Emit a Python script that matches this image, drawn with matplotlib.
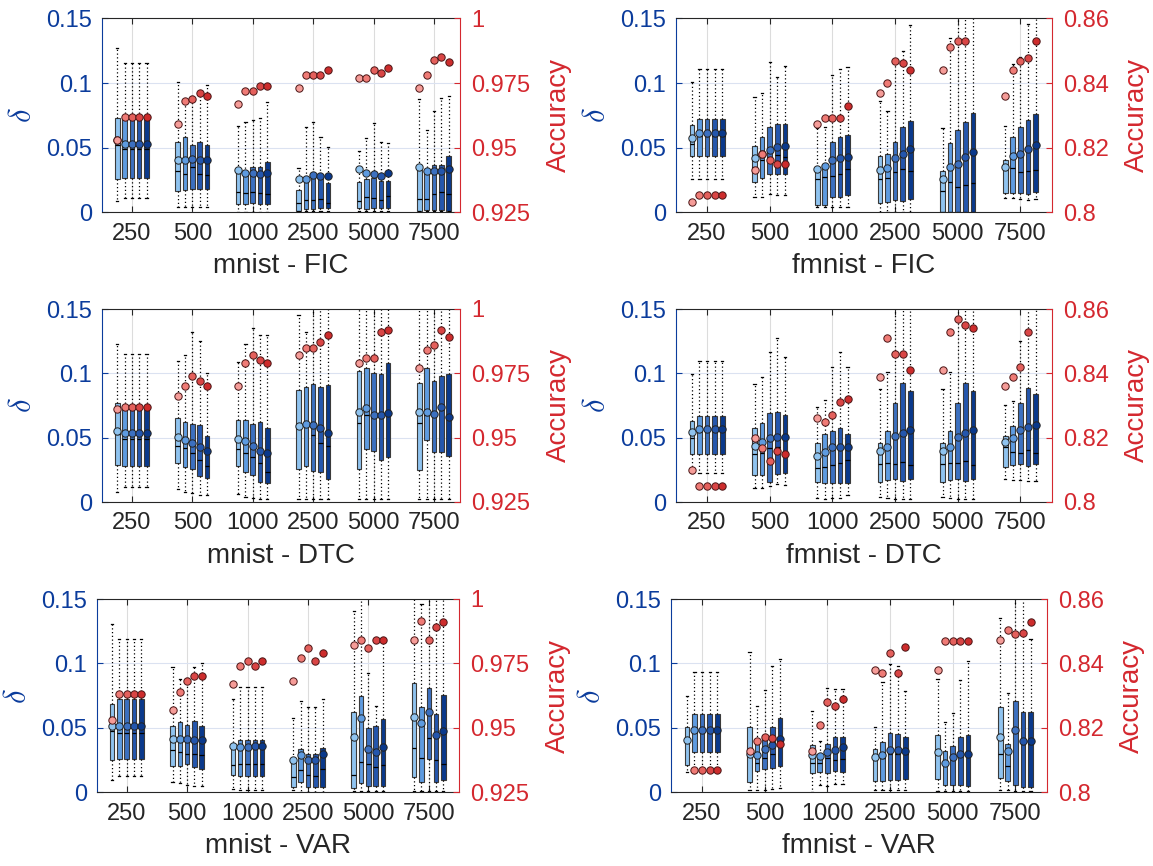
import numpy as np
import matplotlib.pyplot as plt

plt.rcParams['font.family'] = ['Liberation Sans', 'DejaVu Sans']
plt.rcParams['mathtext.fontset'] = 'cm'

sizes = ['250', '500', '1000', '2500', '5000', '7500']
blues = ['#8fc3ef', '#5e9be0', '#3c70c0', '#2456ad', '#0a398c']
reds = ['#f59c98', '#ef7b76', '#e4605c', '#d94545', '#cd2c2c']
BLUE = '#0b3c9c'
RED = '#d4282f'
nan = np.nan

# ---------------- mnist - FIC ----------------
mnist_fic_lo = [[0.009, 0.011, 0.011, 0.011, 0.011], [0.004, 0.004, 0.004, 0.004, 0.004],
                [0.0005, 0.0005, 0.0005, 0.0005, 0.0005], [0.001, 0.001, 0.001, 0.001, 0.001],
                [0.001, 0.001, 0.001, 0.001, 0.001], [0.001, 0.001, 0.001, 0.001, 0.001]]
mnist_fic_q1 = [[0.0258, 0.0268, 0.0268, 0.0268, 0.0268], [0.0165, 0.0173, 0.018, 0.018, 0.018],
                [0.0064, 0.0064, 0.007, 0.0064, 0.0064], [0.0013, 0.0023, 0.0026, 0.003, 0.003],
                [0.0031, 0.0026, 0.0031, 0.0031, 0.0031], [0.0013, 0.0018, 0.0018, 0.0018, 0.0013]]
mnist_fic_med = [[0.052, 0.0487, 0.0487, 0.0487, 0.0487], [0.0322, 0.0296, 0.0353, 0.030, 0.029],
                 [0.016, 0.015, 0.0155, 0.0147, 0.0142], [0.0075, 0.0095, 0.0095, 0.010, 0.0075],
                 [0.0088, 0.0121, 0.0108, 0.0095, 0.0126], [0.010, 0.010, 0.0142, 0.016, 0.0142]]
mnist_fic_q3 = [[0.0727, 0.074, 0.074, 0.074, 0.074], [0.0546, 0.0585, 0.052, 0.054, 0.052],
                [0.0302, 0.0314, 0.0353, 0.0353, 0.0387], [0.0173, 0.0276, 0.0302, 0.0296, 0.0224],
                [0.0232, 0.0258, 0.0268, 0.0242, 0.0242], [0.0327, 0.0322, 0.0366, 0.0366, 0.0436]]
mnist_fic_hi = [[0.1268, 0.1152, 0.1152, 0.1152, 0.1152], [0.1005, 0.088, 0.090, 0.094, 0.0985],
                [0.0668, 0.070, 0.0714, 0.0732, 0.0856], [0.0345, 0.0662, 0.0696, 0.058, 0.0508],
                [0.0474, 0.0577, 0.0688, 0.0541, 0.0539], [0.0876, 0.0637, 0.0786, 0.0881, 0.090]]
mnist_fic_mean = [[0.0559, 0.0528, 0.0528, 0.0528, 0.0528], [0.0405, 0.0405, 0.041, 0.0405, 0.0405],
                  [0.0325, 0.0302, 0.0302, 0.0296, 0.0302], [0.0255, 0.026, 0.0286, 0.0281, 0.0281],
                  [0.0335, 0.0304, 0.0296, 0.0278, 0.0302], [0.0353, 0.0322, 0.0322, 0.0322, 0.0332]]
mnist_fic_acc = [[0.953, 0.962, 0.962, 0.962, 0.962], [0.959, 0.968, 0.969, 0.971, 0.970],
                 [0.967, 0.972, 0.972, 0.974, 0.974], [0.973, 0.978, 0.978, 0.978, 0.980],
                 [0.977, 0.977, 0.980, 0.979, 0.981], [0.973, 0.978, 0.984, 0.985, 0.983]]

# ---------------- fmnist - FIC ----------------
fmnist_fic_lo = [[0.0258, 0.0258, 0.0258, 0.0258, 0.0258], [0.0121, 0.0121, 0.0142, 0.0134, 0.0134],
                 [0.0044, 0.0044, 0.0044, 0.0044, 0.0044], [0.0005, 0.0005, 0.0005, 0.0005, 0.0005],
                 [0.0, 0.0, 0.0, 0.0, 0.0], [0.0108, 0.0108, 0.0105, 0.0095, 0.0105]]
fmnist_fic_q1 = [[0.0436, 0.0436, 0.0436, 0.0436, 0.0436], [0.0237, 0.0268, 0.0294, 0.0296, 0.0296],
                 [0.0057, 0.0057, 0.012, 0.012, 0.013], [0.007, 0.0082, 0.0095, 0.0088, 0.010],
                 [0.0, 0.0, 0.0, 0.0, 0.0005], [0.0147, 0.0152, 0.0147, 0.0139, 0.0155]]
fmnist_fic_med = [[0.053, 0.059, 0.059, 0.059, 0.059], [0.0353, 0.0405, 0.043, 0.0443, 0.0425],
                  [0.0255, 0.027, 0.0281, 0.0296, 0.0332], [0.0255, 0.0263, 0.0309, 0.0335, 0.032],
                  [0.0165, 0.0237, 0.0198, 0.0211, 0.0224], [0.034, 0.0345, 0.0309, 0.0322, 0.0327]]
fmnist_fic_q3 = [[0.0673, 0.0722, 0.0722, 0.0722, 0.0722], [0.0513, 0.0585, 0.0657, 0.068, 0.068],
                 [0.0353, 0.0374, 0.054, 0.0585, 0.0598], [0.0436, 0.0451, 0.054, 0.0657, 0.0709],
                 [0.0322, 0.0539, 0.0637, 0.0701, 0.0765], [0.0405, 0.058, 0.0657, 0.0714, 0.076]]
fmnist_fic_hi = [[0.101, 0.1108, 0.1108, 0.1108, 0.1108], [0.0894, 0.0925, 0.116, 0.1044, 0.1131],
                 [0.065, 0.0657, 0.106, 0.111, 0.1121], [0.0863, 0.0786, 0.1152, 0.1247, 0.1448],
                 [0.065, 0.135, 0.16, 0.16, 0.16], [0.0668, 0.1147, 0.12, 0.1456, 0.16]]
fmnist_fic_mean = [[0.0577, 0.0611, 0.0611, 0.0611, 0.0611], [0.0418, 0.0448, 0.0482, 0.0503, 0.0513],
                   [0.0335, 0.0358, 0.0405, 0.0418, 0.043], [0.0327, 0.0345, 0.0418, 0.0451, 0.0487],
                   [0.0255, 0.0353, 0.0374, 0.0425, 0.0464], [0.0353, 0.0436, 0.0451, 0.0487, 0.0521]]
fmnist_fic_acc = [[0.8031, 0.8052, 0.8052, 0.8052, 0.8052], [0.8131, 0.8179, 0.8161, 0.815, 0.815],
                  [0.8272, 0.8291, 0.8291, 0.8291, 0.833], [0.837, 0.8401, 0.8469, 0.8461, 0.844],
                  [0.844, 0.851, 0.853, 0.853, 0.862], [0.836, 0.844, 0.8469, 0.8479, 0.853]]

# ---------------- mnist - DTC ----------------
mnist_dtc_lo = [[0.008, 0.0114, 0.0114, 0.0114, 0.0114], [0.0098, 0.0075, 0.0067, 0.0054, 0.0054],
                [0.0062, 0.004, 0.003, 0.002, 0.002], [0.0023, 0.002, 0.002, 0.002, 0.002],
                [0.002, 0.002, 0.002, 0.002, 0.002], [0.002, 0.002, 0.002, 0.002, 0.002]]
mnist_dtc_q1 = [[0.0288, 0.0282, 0.0282, 0.0282, 0.0282], [0.030, 0.0269, 0.0256, 0.0202, 0.0184],
                [0.0282, 0.0236, 0.021, 0.0158, 0.0145], [0.0254, 0.0282, 0.0244, 0.023, 0.0176],
                [0.0254, 0.0412, 0.0396, 0.0326, 0.0347], [0.0249, 0.0482, 0.0391, 0.0386, 0.036]]
mnist_dtc_med = [[0.053, 0.049, 0.049, 0.049, 0.049], [0.0435, 0.0417, 0.0378, 0.0326, 0.0282],
                 [0.0409, 0.0383, 0.0347, 0.030, 0.0236], [0.0585, 0.060, 0.052, 0.0461, 0.0435],
                 [0.0611, 0.068, 0.067, 0.066, 0.068], [0.0617, 0.068, 0.067, 0.072, 0.065]]
mnist_dtc_q3 = [[0.0767, 0.0741, 0.0741, 0.0741, 0.0741], [0.0655, 0.0619, 0.0604, 0.0598, 0.0513],
                [0.0637, 0.0637, 0.0604, 0.0619, 0.0573], [0.087, 0.0891, 0.0917, 0.0896, 0.0909],
                [0.1018, 0.1044, 0.100, 0.0995, 0.1078], [0.0922, 0.1044, 0.094, 0.0982, 0.0992]]
mnist_dtc_hi = [[0.1228, 0.1148, 0.1148, 0.1148, 0.1148], [0.1096, 0.1142, 0.132, 0.125, 0.100],
                [0.109, 0.1225, 0.135, 0.13, 0.13], [0.1453, 0.1324, 0.16, 0.16, 0.16],
                [0.16, 0.16, 0.16, 0.16, 0.16], [0.16, 0.16, 0.16, 0.16, 0.16]]
mnist_dtc_mean = [[0.0552, 0.0534, 0.0534, 0.0534, 0.0534], [0.0503, 0.0482, 0.0461, 0.0425, 0.0399],
                  [0.0487, 0.0474, 0.0438, 0.0399, 0.0383], [0.0593, 0.0604, 0.0598, 0.0578, 0.0534],
                  [0.0702, 0.0733, 0.0679, 0.0674, 0.0689], [0.0702, 0.0697, 0.0684, 0.0736, 0.0663]]
mnist_dtc_acc = [[0.961, 0.962, 0.962, 0.962, 0.962], [0.966, 0.970, 0.974, 0.972, 0.970],
                 [0.970, 0.979, 0.982, 0.980, 0.979], [0.982, 0.985, 0.985, 0.987, 0.990],
                 [0.979, 0.981, 0.981, 0.991, 0.992], [0.977, 0.984, 0.986, 0.992, 0.989]]

# ---------------- fmnist - DTC ----------------
fmnist_dtc_lo = [[0.0223, 0.0223, 0.0223, 0.0223, 0.0223], [0.0111, 0.0111, 0.0125, 0.0137, 0.0132],
                 [0.003, 0.0025, 0.003, 0.003, 0.0055], [0.004, 0.003, 0.002, 0.002, 0.002],
                 [0.004, 0.003, 0.002, 0.002, 0.002], [0.0179, 0.017, 0.017, 0.016, 0.016]]
fmnist_dtc_q1 = [[0.037, 0.037, 0.037, 0.037, 0.037], [0.021, 0.021, 0.0155, 0.0218, 0.0223],
                 [0.0153, 0.0145, 0.015, 0.0145, 0.015], [0.0158, 0.0171, 0.0179, 0.0163, 0.0179],
                 [0.0158, 0.0171, 0.0176, 0.0163, 0.0179], [0.0275, 0.0288, 0.0293, 0.028, 0.0293]]
fmnist_dtc_med = [[0.050, 0.055, 0.055, 0.055, 0.055], [0.0373, 0.0383, 0.0417, 0.043, 0.0391],
                  [0.0262, 0.0275, 0.0288, 0.0306, 0.0326], [0.0295, 0.030, 0.0295, 0.0313, 0.0288],
                  [0.0295, 0.030, 0.030, 0.0319, 0.0288], [0.043, 0.0391, 0.0383, 0.0404, 0.0378]]
fmnist_dtc_q3 = [[0.063, 0.0671, 0.0671, 0.0671, 0.0671], [0.0573, 0.0617, 0.0694, 0.0697, 0.0676],
                 [0.0456, 0.0528, 0.0552, 0.0573, 0.0526], [0.0461, 0.0554, 0.0772, 0.0922, 0.0865],
                 [0.0461, 0.0554, 0.0772, 0.0922, 0.0865], [0.0516, 0.0593, 0.0767, 0.0883, 0.0839]]
fmnist_dtc_hi = [[0.0995, 0.1096, 0.1096, 0.1096, 0.1096], [0.0917, 0.0974, 0.1163, 0.1277, 0.113],
                 [0.0741, 0.0793, 0.1052, 0.1168, 0.1052], [0.0876, 0.1013, 0.16, 0.16, 0.16],
                 [0.0876, 0.1013, 0.16, 0.16, 0.16], [0.0754, 0.0785, 0.1254, 0.16, 0.16]]
fmnist_dtc_mean = [[0.0541, 0.0567, 0.0567, 0.0567, 0.0567], [0.0435, 0.0464, 0.0495, 0.0508, 0.0508],
                   [0.036, 0.0386, 0.043, 0.043, 0.043], [0.0399, 0.043, 0.0513, 0.0539, 0.056],
                   [0.0399, 0.043, 0.0508, 0.0539, 0.056], [0.0469, 0.0495, 0.056, 0.058, 0.0598]]
fmnist_dtc_acc = [[0.810, 0.805, 0.805, 0.805, 0.805], [0.820, 0.8169, 0.8128, 0.816, 0.8149],
                  [0.826, 0.825, 0.827, 0.831, 0.832], [0.839, 0.851, 0.846, 0.846, 0.841],
                  [0.841, 0.853, 0.857, 0.855, 0.854], [0.836, 0.839, 0.842, 0.853, 0.862]]

# ---------------- mnist - VAR ----------------
mnist_var_lo = [[0.0093, 0.0124, 0.0124, 0.0124, 0.0124], [0.0077, 0.0072, 0.0059, 0.0046, 0.0046],
                [0.0026, 0.002, 0.002, 0.002, 0.002], [0.002, 0.0, 0.0, 0.0, 0.0],
                [0.0008, 0.0008, 0.0008, 0.0008, 0.0008], [0.0008, 0.0008, 0.0008, 0.0008, 0.0008]]
mnist_var_q1 = [[0.0253, 0.026, 0.026, 0.026, 0.026], [0.0206, 0.0206, 0.0219, 0.0196, 0.0183],
                [0.0131, 0.0124, 0.0124, 0.0124, 0.0124], [0.0041, 0.008, 0.0041, 0.0041, 0.0041],
                [0.0034, 0.0072, 0.0052, 0.0046, 0.0046], [0.0119, 0.0077, 0.0258, 0.0077, 0.0093]]
mnist_var_med = [[0.0472, 0.0459, 0.0459, 0.0459, 0.0459], [0.0325, 0.0312, 0.0296, 0.0296, 0.0286],
                 [0.0214, 0.0222, 0.0222, 0.0222, 0.0222], [0.0119, 0.0175, 0.0137, 0.0129, 0.018],
                 [0.0137, 0.0232, 0.0219, 0.0193, 0.0214], [0.0343, 0.0265, 0.042, 0.0253, 0.0222]]
mnist_var_q3 = [[0.0683, 0.0722, 0.0722, 0.0722, 0.0722], [0.0518, 0.0544, 0.0523, 0.0554, 0.0515],
                [0.0361, 0.0402, 0.0402, 0.0402, 0.0402], [0.0232, 0.0335, 0.0296, 0.0296, 0.0343],
                [0.0621, 0.0747, 0.0497, 0.0518, 0.0567], [0.0845, 0.0665, 0.0807, 0.0608, 0.0755]]
mnist_var_hi = [[0.1309, 0.1188, 0.1188, 0.1188, 0.1188], [0.0969, 0.0876, 0.0884, 0.0974, 0.100],
                [0.0724, 0.0814, 0.0814, 0.0814, 0.0814], [0.0575, 0.0709, 0.0665, 0.0665, 0.0722],
                [0.1405, 0.16, 0.0923, 0.0673, 0.12], [0.16, 0.1464, 0.16, 0.16, 0.16]]
mnist_var_mean = [[0.0515, 0.0518, 0.0518, 0.0518, 0.0518], [0.0415, 0.0415, 0.0415, 0.0407, 0.0402],
                  [0.0363, 0.0351, 0.0351, 0.0356, 0.0356], [0.0253, 0.0291, 0.0253, 0.0253, 0.0299],
                  [0.0433, 0.0575, 0.0338, 0.0312, 0.0348], [0.0588, 0.0541, 0.0621, 0.0446, 0.0477]]
mnist_var_acc = [[0.953, 0.963, 0.963, 0.963, 0.963], [0.957, 0.964, 0.968, 0.970, 0.970],
                 [0.967, 0.974, 0.976, 0.974, 0.976], [0.968, 0.977, 0.981, 0.976, 0.979],
                 [0.982, 0.984, 0.981, 0.984, 0.984], [0.984, 0.9915, 0.984, 0.989, 0.991]]

# ---------------- fmnist - VAR ----------------
fmnist_var_lo = [[0.0155, 0.0155, 0.0155, 0.0155, 0.0155], [0.0015, 0.002, 0.002, 0.0028, 0.0034],
                 [0.0, 0.0054, 0.0046, 0.0064, 0.0064], [0.002, 0.002, 0.002, 0.002, 0.002],
                 [0.0008, 0.0008, 0.0008, 0.0008, 0.0008], [0.0015, 0.002, 0.0008, 0.0008, 0.0008]]
fmnist_var_q1 = [[0.0209, 0.0309, 0.0309, 0.0309, 0.0309], [0.008, 0.0162, 0.018, 0.0188, 0.0201],
                 [0.0149, 0.0155, 0.0149, 0.0162, 0.0155], [0.0085, 0.0085, 0.0093, 0.0093, 0.0103],
                 [0.0106, 0.0054, 0.0054, 0.0054, 0.0046], [0.0111, 0.0085, 0.0059, 0.0041, 0.0041]]
fmnist_var_med = [[0.040, 0.048, 0.048, 0.048, 0.048], [0.028, 0.0227, 0.0265, 0.0299, 0.0356],
                  [0.0227, 0.0227, 0.0265, 0.0253, 0.0258], [0.026, 0.027, 0.030, 0.030, 0.030],
                  [0.030, 0.022, 0.026, 0.029, 0.029], [0.0296, 0.0201, 0.048, 0.0376, 0.0376]]
fmnist_var_q3 = [[0.051, 0.0608, 0.0608, 0.0608, 0.0608], [0.0505, 0.0374, 0.0446, 0.051, 0.058],
                 [0.0369, 0.0296, 0.0374, 0.0433, 0.0433], [0.0338, 0.0394, 0.0459, 0.0454, 0.0428],
                 [0.0446, 0.0322, 0.0356, 0.0433, 0.0446], [0.0665, 0.0376, 0.0709, 0.0621, 0.0621]]
fmnist_var_hi = [[0.0747, 0.0936, 0.0936, 0.0936, 0.0936], [0.109, 0.0673, 0.0794, 0.0979, 0.1034],
                 [0.0631, 0.040, 0.0807, 0.0799, 0.0799], [0.0503, 0.0853, 0.0995, 0.0982, 0.0789],
                 [0.0879, 0.0544, 0.0613, 0.0871, 0.1018], [0.1353, 0.0768, 0.16, 0.16, 0.1193]]
fmnist_var_mean = [[0.0407, 0.0485, 0.0485, 0.0485, 0.0485], [0.0299, 0.0286, 0.0335, 0.0369, 0.0415],
                   [0.0286, 0.0284, 0.0312, 0.033, 0.0348], [0.0273, 0.0291, 0.0325, 0.033, 0.0317],
                   [0.0312, 0.0227, 0.0273, 0.0299, 0.0299], [0.0433, 0.0317, 0.0485, 0.040, 0.040]]
fmnist_var_acc = [[nan, 0.807, 0.807, 0.807, 0.807], [0.8129, 0.816, 0.8173, 0.817, 0.815],
                  [0.8129, 0.8209, 0.8279, 0.8269, 0.829], [0.8379, 0.8371, 0.8431, 0.837, 0.845],
                  [0.8379, 0.847, 0.847, 0.847, 0.847], [0.8472, 0.8505, 0.849, 0.8495, 0.853]]

mnist_acc_ticks = [0.925, 0.95, 0.975, 1.0]
mnist_acc_labels = ['0.925', '0.95', '0.975', '1']
fmnist_acc_ticks = [0.80, 0.82, 0.84, 0.86]
fmnist_acc_labels = ['0.8', '0.82', '0.84', '0.86']

W, H = 1153, 866
fig = plt.figure(figsize=(W / 100, H / 100), dpi=100)


def px_rect(x0, x1, y0, y1):
    return [x0 / W, 1 - y1 / H, (x1 - x0) / W, (y1 - y0) / H]


def draw(rect, xmax, title, lo, q1, med, q3, hi, mean, acc, aticks, alabels):
    ax = fig.add_axes(rect)
    ax2 = ax.twinx()
    stats, pos, cols = [], [], []
    for g in range(6):
        for k in range(5):
            stats.append(dict(whislo=lo[g][k], q1=q1[g][k], med=med[g][k], q3=q3[g][k],
                              whishi=hi[g][k], mean=mean[g][k], fliers=[]))
            pos.append(g + 1 + (k - 2) * 0.121)
            cols.append(blues[k])
    art = ax.bxp(stats, positions=pos, widths=0.075, capwidths=0.035, patch_artist=True,
                 showmeans=True, showfliers=False, manage_ticks=False,
                 boxprops=dict(edgecolor='#3a3a3a', linewidth=0.8),
                 whiskerprops=dict(linestyle=(0, (1, 2)), color='k', linewidth=0.9),
                 capprops=dict(color='k', linewidth=0.9),
                 medianprops=dict(color='k', linewidth=0.9),
                 meanprops=dict(marker='o', markeredgecolor='#222222', markersize=5.3,
                                markeredgewidth=0.7))
    for b, m, c in zip(art['boxes'], art['means'], cols):
        b.set_facecolor(c)
        m.set_markerfacecolor(c)

    accs = np.array(acc)
    for k in range(5):
        xs = np.arange(1, 7) + (k - 2) * 0.121
        ax2.plot(xs, accs[:, k], 'o', ms=5.3, mfc=reds[k], mec='#4a1515', mew=0.7)

    ax.set_xlim(0.5, xmax)
    ax.set_ylim(0, 0.15)
    ax.set_xticks(range(1, 7), sizes)
    ax.set_yticks([0, 0.05, 0.1, 0.15], ['0', '0.05', '0.1', '0.15'])
    ax.grid(True, axis='x', color='#dcdcdc', linewidth=0.8)
    ax.grid(True, axis='y', color='#dbe2f1', linewidth=0.8)
    ax.set_axisbelow(True)
    ax.tick_params(axis='x', direction='in', length=4, top=True, colors='#262626',
                   labelsize=17, pad=7.5)
    ax.tick_params(axis='y', direction='in', length=4, colors=BLUE, labelsize=17, pad=7)
    ax.spines['left'].set_color(BLUE)
    ax.spines['right'].set_visible(False)
    for s in ['top', 'bottom']:
        ax.spines[s].set_color('#262626')

    ax2.set_ylim(aticks[0], aticks[-1])
    ax2.set_yticks(aticks, alabels)
    ax2.tick_params(axis='y', direction='in', length=4, colors=RED, labelsize=17, pad=8)
    for s in ['left', 'top', 'bottom']:
        ax2.spines[s].set_visible(False)
    ax2.spines['right'].set_color(RED)

    ax.set_xlabel(title, fontsize=20, color='#262626', labelpad=6)
    ax.set_ylabel(r'$\delta$', fontsize=22, color=BLUE, labelpad=6)
    ax2.set_ylabel('Accuracy', fontsize=20, color=RED, labelpad=11)


draw(px_rect(101.7, 460, 18.4, 212.3), 6.43, 'mnist - FIC', mnist_fic_lo, mnist_fic_q1,
     mnist_fic_med, mnist_fic_q3, mnist_fic_hi, mnist_fic_mean, mnist_fic_acc,
     mnist_acc_ticks, mnist_acc_labels)
draw(px_rect(675.7, 1051.7, 18.4, 212.3), 6.5, 'fmnist - FIC', fmnist_fic_lo, fmnist_fic_q1,
     fmnist_fic_med, fmnist_fic_q3, fmnist_fic_hi, fmnist_fic_mean, fmnist_fic_acc,
     fmnist_acc_ticks, fmnist_acc_labels)
draw(px_rect(101.7, 460, 309, 502), 6.43, 'mnist - DTC', mnist_dtc_lo, mnist_dtc_q1,
     mnist_dtc_med, mnist_dtc_q3, mnist_dtc_hi, mnist_dtc_mean, mnist_dtc_acc,
     mnist_acc_ticks, mnist_acc_labels)
draw(px_rect(675.7, 1051.7, 309, 502), 6.5, 'fmnist - DTC', fmnist_dtc_lo, fmnist_dtc_q1,
     fmnist_dtc_med, fmnist_dtc_q3, fmnist_dtc_hi, fmnist_dtc_mean, fmnist_dtc_acc,
     fmnist_acc_ticks, fmnist_acc_labels)
draw(px_rect(96.5, 459, 599, 792.3), 6.5, 'mnist - VAR', mnist_var_lo, mnist_var_q1,
     mnist_var_med, mnist_var_q3, mnist_var_hi, mnist_var_mean, mnist_var_acc,
     mnist_acc_ticks, mnist_acc_labels)
draw(px_rect(670.7, 1046.7, 599, 792.3), 6.5, 'fmnist - VAR', fmnist_var_lo, fmnist_var_q1,
     fmnist_var_med, fmnist_var_q3, fmnist_var_hi, fmnist_var_mean, fmnist_var_acc,
     fmnist_acc_ticks, fmnist_acc_labels)

fig.savefig('out.png', dpi=100)
